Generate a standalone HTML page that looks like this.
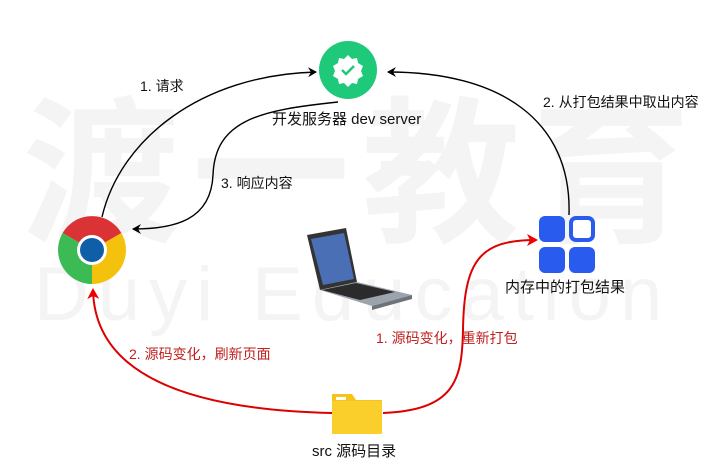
<!DOCTYPE html>
<html><head><meta charset="utf-8"><style>
html,body{margin:0;padding:0;background:#fff;}
body{width:724px;height:468px;overflow:hidden;position:relative;font-family:"Liberation Sans","Noto Sans CJK SC",sans-serif;}
.t{position:absolute;font-size:14px;color:#111;white-space:nowrap;line-height:16px;}
.r{color:#c0201e;}
.wm{position:absolute;color:#f4f4f4;white-space:nowrap;font-weight:bold;}
</style></head><body>
<div class="wm" style="left:22px;top:72px;font-size:158px;line-height:180px;letter-spacing:12px;font-family:'Noto Sans CJK SC',sans-serif;">渡一教育</div>
<div class="wm" style="left:34px;top:250px;font-size:76px;line-height:90px;letter-spacing:9px;font-weight:normal;">Duyi Education</div>
<svg width="724" height="468" style="position:absolute;left:0;top:0">
<defs>
<marker id="ab" markerWidth="10" markerHeight="10" refX="8" refY="5" orient="auto" markerUnits="userSpaceOnUse"><path d="M0,0 L9,5 L0,10 L3,5z" fill="#000"/></marker>
<marker id="ar" markerWidth="12" markerHeight="12" refX="9" refY="6" orient="auto" markerUnits="userSpaceOnUse"><path d="M0,0 L11,6 L0,12 L3,6z" fill="#e00"/></marker>
</defs>
<g fill="none" stroke="#000" stroke-width="1.4">
<path d="M102,217 C120,140 200,75 316,72" marker-end="url(#ab)"/>
<path d="M569,215 C572,120 500,72 388,72" marker-end="url(#ab)"/>
<path d="M338,102 C260,110 215,120 213,175 C211,220 175,229 133,229" marker-end="url(#ab)"/>
</g>
<g fill="none" stroke="#d00" stroke-width="2">
<path d="M383,413 C455,410 462,380 463,330 C464,260 480,240 536,240" marker-end="url(#ar)"/>
<path d="M332,413 C200,410 95,380 93,290" marker-end="url(#ar)"/>
</g>
<circle cx="348" cy="70" r="29" fill="#1ec97a"/>
<path d="M348,55 l4,4 5,-1 1,5 5,3 -2,5 2,5 -5,3 -1,5 -5,-1 -4,4 -4,-4 -5,1 -1,-5 -5,-3 2,-5 -2,-5 5,-3 1,-5 5,1z" fill="#fff"/>
<path d="M342,70 l4,4 8,-8" stroke="#1ec97a" stroke-width="2.5" fill="none"/>
<g transform="translate(92,250)">
<path d="M0,0 L29.4,-17 A34,34 0 0 0 -29.4,-17z" fill="#db3236"/>
<path d="M0,0 L-29.4,-17 A34,34 0 0 0 0,34z" fill="#3cba54"/>
<path d="M0,0 L0,34 A34,34 0 0 0 29.4,-17z" fill="#f4c20d"/>
<circle r="15" fill="#fff"/><circle r="12" fill="#0f5ea8"/>
</g>
<rect x="539" y="216" width="26" height="26" rx="6" fill="#2a5bef"/>
<rect x="571" y="218" width="22" height="22" rx="5" fill="#fff" stroke="#2a5bef" stroke-width="4"/>
<rect x="539" y="247" width="26" height="26" rx="6" fill="#2a5bef"/>
<rect x="569" y="247" width="26" height="26" rx="6" fill="#2a5bef"/>
<path d="M332,394 h20 l4,6 h26 v34 h-50z" fill="#f7c21a"/>
<rect x="336" y="397" width="10" height="3" fill="#fff"/>
<rect x="332" y="401" width="50" height="33" fill="#fbcf2b"/>
<polygon points="307,235 346,228 357,282 320,290" fill="#333"/>
<polygon points="311,239 344,233 354,279 323,285" fill="#4a6fb5"/>
<polygon points="320,290 357,282 412,295 372,306" fill="#9ba3ad"/>
<polygon points="322,290 356,283 395,292 360,300" fill="#2b2b2b"/>
<polygon points="372,306 412,295 412,299 372,310" fill="#6d737a"/>
</svg>
<div class="t" style="left:140px;top:78px">1. 请求</div>
<div class="t" style="left:272px;top:112px;font-size:15px">开发服务器 dev server</div>
<div class="t" style="left:543px;top:94px">2. 从打包结果中取出内容</div>
<div class="t" style="left:221px;top:175px">3. 响应内容</div>
<div class="t" style="left:505px;top:280px;font-size:15px">内存中的打包结果</div>
<div class="t r" style="left:376px;top:330px">1. 源码变化，重新打包</div>
<div class="t r" style="left:129px;top:346px">2. 源码变化，刷新页面</div>
<div class="t" style="left:312px;top:444px;font-size:15px">src 源码目录</div>
</body></html>
